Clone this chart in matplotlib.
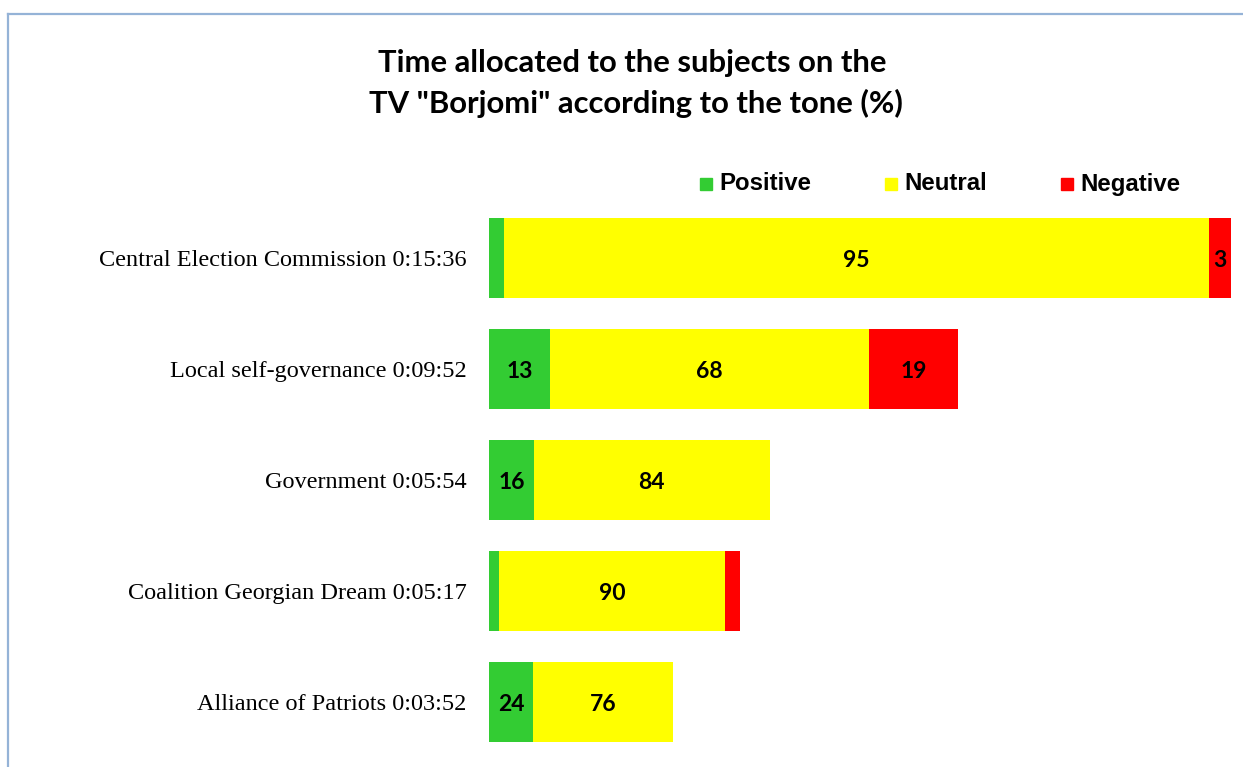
import matplotlib.pyplot as plt
from matplotlib.patches import Rectangle
from matplotlib.lines import Line2D

# data
subjects = ["Central Election Commission", "Local self-governance", "Government",
            "Coalition Georgian Dream", "Alliance of Patriots"]
durations = ["0:15:36", "0:09:52", "0:05:54", "0:05:17", "0:03:52"]
positive = [2, 13, 16, 4, 24]
neutral = [95, 68, 84, 90, 76]
negative = [3, 19, 0, 6, 0]

tones = ["Positive", "Neutral", "Negative"]
colors = ["#33CC33", "#FFFF00", "#FF0000"]


def to_sec(t):
    h, m, s = [int(v) for v in t.split(":")]
    return h * 3600 + m * 60 + s


secs = [to_sec(d) for d in durations]
W, H = 1243, 767

fig = plt.figure(figsize=(W / 100, H / 100), dpi=100)
# chart frame (runs off right/bottom edge)
fig.add_artist(Line2D([7.5 / W, 1.01], [1 - 13.5 / H] * 2, color="#95B3D7", lw=1.6))
fig.add_artist(Line2D([7.5 / W] * 2, [1 - 13.5 / H, -0.01], color="#95B3D7", lw=1.6))

ax = fig.add_axes([489 / W, 1 - 757.5 / H, (1231 - 489) / W, 555 / H])
ax.set_xlim(0, max(secs))
ax.set_ylim(len(subjects) - 0.5, -0.5)

series = [positive, neutral, negative]
left = [0.0] * len(subjects)
for name, vals, col in zip(tones, series, colors):
    widths = [s * v / 100 for s, v in zip(secs, vals)]
    ax.barh(range(len(subjects)), widths, left=left, height=0.72, color=col, label=name)
    for i, (w, l, v) in enumerate(zip(widths, left, vals)):
        if w >= 20:
            ax.text(l + w / 2, i + 0.02, str(v), ha="center", va="center",
                    fontsize=16.5, fontweight="bold", family="Lato")
    left = [a + b for a, b in zip(left, widths)]

ax.set_yticks(range(len(subjects)))
ax.set_yticklabels([f"{s} {d}" for s, d in zip(subjects, durations)],
                   family="Liberation Serif", fontsize=17.5)
ax.tick_params(axis="y", length=0, pad=16)
ax.set_xticks([])
for sp in ax.spines.values():
    sp.set_visible(False)

fig.text(632 / W, 1 - 63 / H, "Time allocated to the subjects on the", ha="center",
         va="center", fontsize=22.3, fontweight="bold", family="Lato")
fig.text(636 / W, 1 - 103 / H, 'TV "Borjomi" according to the tone (%)', ha="center",
         va="center", fontsize=22.3, fontweight="bold", family="Lato")

# legend, placed by hand
leg_x = [700, 885, 1061]
for x, name, col in zip(leg_x, tones, colors):
    fig.add_artist(Rectangle((x / W, 1 - 190 / H), 12 / W, 12 / H, color=col))
    fig.text((x + 19) / W, 1 - 184 / H, name, va="center", ha="left",
             fontsize=17.3, fontweight="bold", family="Liberation Sans")

fig.savefig("out.png", dpi=100)
